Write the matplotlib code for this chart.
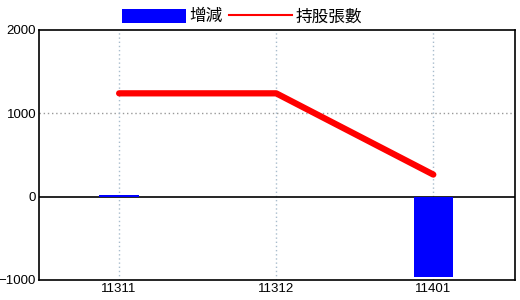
import matplotlib
matplotlib.use("Agg")
import matplotlib.pyplot as plt
from matplotlib.patches import Patch
from matplotlib.lines import Line2D
import numpy as np

# --- Data -------------------------------------------------------------------
periods = ["11311", "11312", "11401"]
change = [20, 0, -965]          # 增減 (bars)
holdings = [1240, 1240, 265]    # 持股張數 (line)
y_ticks = [-1000, 0, 1000, 2000]

plt.rcParams["font.family"] = ["Liberation Sans", "Noto Sans CJK TC", "DejaVu Sans"]

fig = plt.figure(figsize=(5.2, 3.0), dpi=100)
ax = fig.add_axes([39 / 520, 20 / 300, 476 / 520, 250 / 300])

x = np.arange(len(periods))
ax.bar(x, change, width=0.25, color="#0000FF", zorder=2)
ax.plot(x, holdings, color="#FF0000", linewidth=4.5, solid_capstyle="round", zorder=3)
ax.axhline(0, color="black", linewidth=1.2, zorder=1.5)

ax.set_xlim(-0.51, 2.52)
ax.set_ylim(-1000, 2000)
ax.set_xticks(x)
ax.set_xticklabels(periods)
ax.set_yticks(y_ticks)

for v in [1000]:
    ax.axhline(v, color="#999999", linewidth=1, linestyle=(0, (1, 2)), zorder=1)
for xi in x:
    ax.axvline(xi, color="#A8BCCC", linewidth=1, linestyle=(0, (1, 2)), zorder=1)

ax.tick_params(length=0, labelsize=9.5, pad=2)
for s in ax.spines.values():
    s.set_linewidth(1.2)

handles = [
    Patch(facecolor="#0000FF", edgecolor="none", label="增減"),
    Line2D([], [], color="#FF0000", linewidth=1.5, label="持股張數"),
]
fig.legend(handles=handles, loc="upper left", bbox_to_anchor=(114 / 520, 1.0),
           ncol=2, frameon=False, handlelength=3.8, handleheight=0.9,
           handletextpad=0.2, columnspacing=0.4, borderaxespad=0.1,
           prop={"family": ["Noto Sans CJK TC"], "size": 12})

fig.savefig("out.png", dpi=100)
